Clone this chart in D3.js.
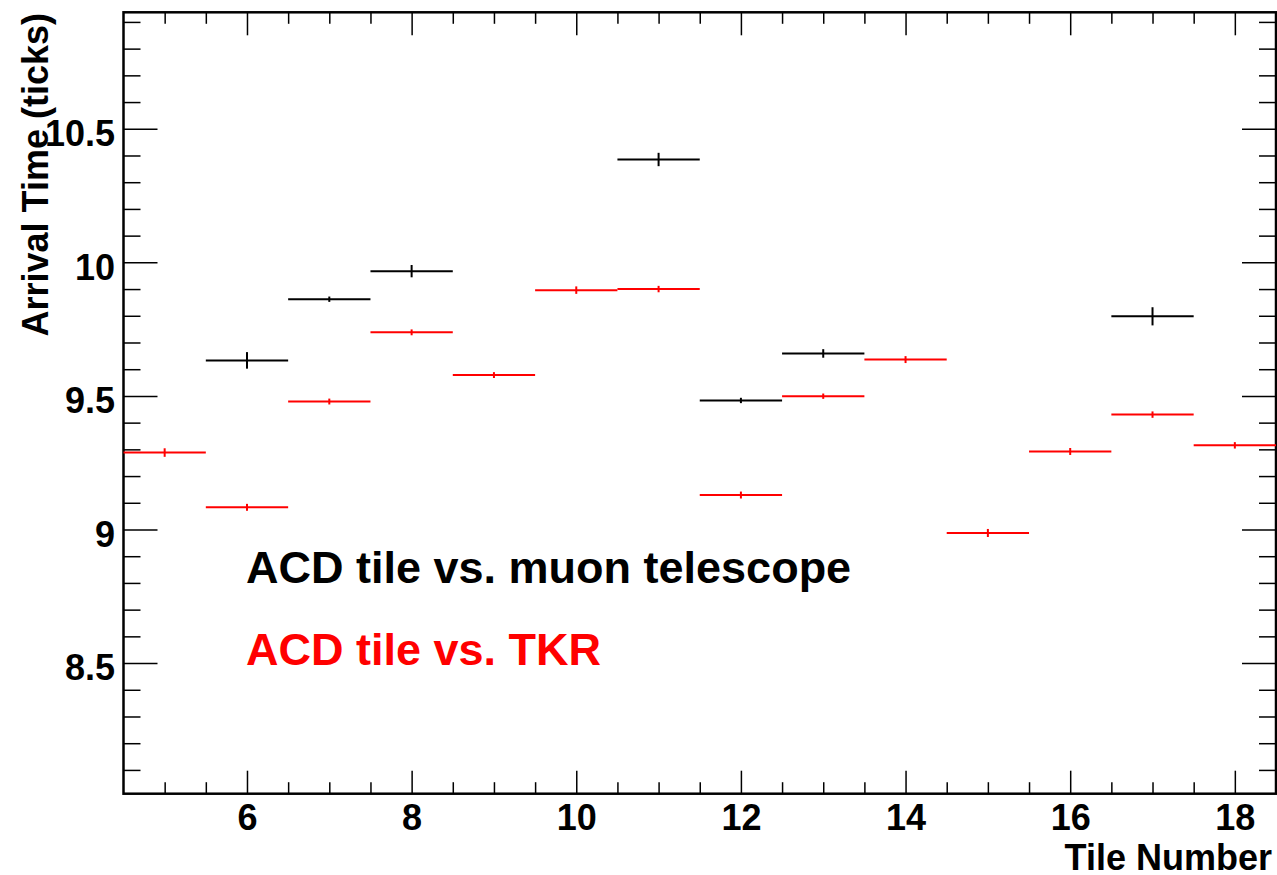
<!DOCTYPE html>
<html>
<head>
<meta charset="utf-8">
<script src="https://cdn.jsdelivr.net/npm/d3@7"></script>
<style>
  body { margin: 0; background: #fff; }
  svg { display: block; font-family: "Liberation Sans", Arial, Helvetica, sans-serif; font-weight: bold; }
  .axis path { display: none; }
  .axis line { stroke: #000; stroke-width: 1.5; }
  .axis text { font-size: 36px; font-weight: bold; fill: #000; }
</style>
</head>
<body>
<script>
// tile numbers and arrival times (ticks)
var tkrTiles = [5, 6, 7, 8, 9, 10, 11, 12, 13, 14, 15, 16, 17, 18];
var tkrTimes = [9.288, 9.083, 9.479, 9.738, 9.578, 9.896, 9.900, 9.129, 9.499, 9.636, 8.987, 9.292, 9.430, 9.315];
var tkrErrs  = [0.016, 0.013, 0.011, 0.011, 0.011, 0.014, 0.012, 0.013, 0.010, 0.013, 0.015, 0.013, 0.012, 0.012];

var muonTiles = [6, 7, 8, 11, 12, 13, 17];
var muonTimes = [9.633, 9.862, 9.967, 10.385, 9.483, 9.659, 9.798];
var muonErrs  = [0.031, 0.010, 0.023, 0.025, 0.010, 0.016, 0.034];

var xMajor = [6, 8, 10, 12, 14, 16, 18];
var yMajor = [8.5, 9, 9.5, 10, 10.5];
var legendLabels = ["ACD tile vs. muon telescope", "ACD tile vs. TKR"];
var legendColors = ["#000000", "#ff0000"];

var W = 1277, H = 875;
var pL = 123.5, pR = 1276, pT = 12.3, pB = 793.7;

var svg = d3.select("body").append("svg").attr("width", W).attr("height", H);

var x = d3.scaleLinear().domain([4.5, 18.5]).range([pL, pR]);
var y = d3.scaleLinear().domain([8.011, 10.936]).range([pB, pT]);

var xMinor = d3.range(5, 18.5, 0.5).filter(function (d) { return xMajor.indexOf(d) < 0; });
var yMinor = d3.range(81, 110, 1).map(function (d) { return d / 10; })
    .filter(function (d) { return yMajor.indexOf(d) < 0; });

// bottom axis
svg.append("g").attr("class", "axis").attr("transform", "translate(0," + pB + ")")
    .call(d3.axisBottom(x).tickValues(xMajor).tickSize(-23).tickPadding(10.7).tickFormat(d3.format("d")));
svg.append("g").attr("class", "axis").attr("transform", "translate(0," + pB + ")")
    .call(d3.axisBottom(x).tickValues(xMinor).tickSize(-11.5).tickFormat(""));
// top axis (ticks only)
svg.append("g").attr("class", "axis").attr("transform", "translate(0," + pT + ")")
    .call(d3.axisTop(x).tickValues(xMajor).tickSize(-23).tickFormat(""));
svg.append("g").attr("class", "axis").attr("transform", "translate(0," + pT + ")")
    .call(d3.axisTop(x).tickValues(xMinor).tickSize(-11.5).tickFormat(""));

// left axis
var yl = svg.append("g").attr("class", "axis").attr("transform", "translate(" + pL + ",0)")
    .call(d3.axisLeft(y).tickValues(yMajor).tickSize(-34).tickPadding(8.5).tickFormat(function (d) { return String(d); }));
yl.selectAll("text").attr("dy", "0.47em");
svg.append("g").attr("class", "axis").attr("transform", "translate(" + pL + ",0)")
    .call(d3.axisLeft(y).tickValues(yMinor).tickSize(-17).tickFormat(""));
// right axis (ticks only)
svg.append("g").attr("class", "axis").attr("transform", "translate(" + pR + ",0)")
    .call(d3.axisRight(y).tickValues(yMajor).tickSize(-34).tickFormat(""));
svg.append("g").attr("class", "axis").attr("transform", "translate(" + pR + ",0)")
    .call(d3.axisRight(y).tickValues(yMinor).tickSize(-17).tickFormat(""));

// frame
svg.append("rect").attr("x", pL).attr("y", pT).attr("width", pR - pL).attr("height", pB - pT)
    .attr("fill", "none").attr("stroke", "#000").attr("stroke-width", 2.5);

// error-bar series
function drawSeries(tiles, times, errs, color) {
    var g = svg.append("g").attr("stroke", color).attr("stroke-width", 2);
    tiles.forEach(function (t, i) {
        g.append("line").attr("x1", x(t - 0.5)).attr("x2", x(t + 0.5))
            .attr("y1", y(times[i])).attr("y2", y(times[i]));
        g.append("line").attr("x1", x(t)).attr("x2", x(t))
            .attr("y1", y(times[i] - errs[i])).attr("y2", y(times[i] + errs[i]));
    });
}
drawSeries(tkrTiles, tkrTimes, tkrErrs, legendColors[1]);
drawSeries(muonTiles, muonTimes, muonErrs, legendColors[0]);

// axis titles
svg.append("text").attr("x", 1272).attr("y", 870).attr("text-anchor", "end")
    .style("font-size", "36px").text("Tile Number");
svg.append("text").attr("transform", "translate(48,13) rotate(-90)").attr("text-anchor", "end")
    .style("font-size", "36px").text("Arrival Time (ticks)");

// legend texts
legendLabels.forEach(function (l, i) {
    svg.append("text").attr("x", 246).attr("y", 583 + i * 82)
        .attr("fill", legendColors[i]).style("font-size", "45px").text(l);
});
</script>
</body>
</html>
